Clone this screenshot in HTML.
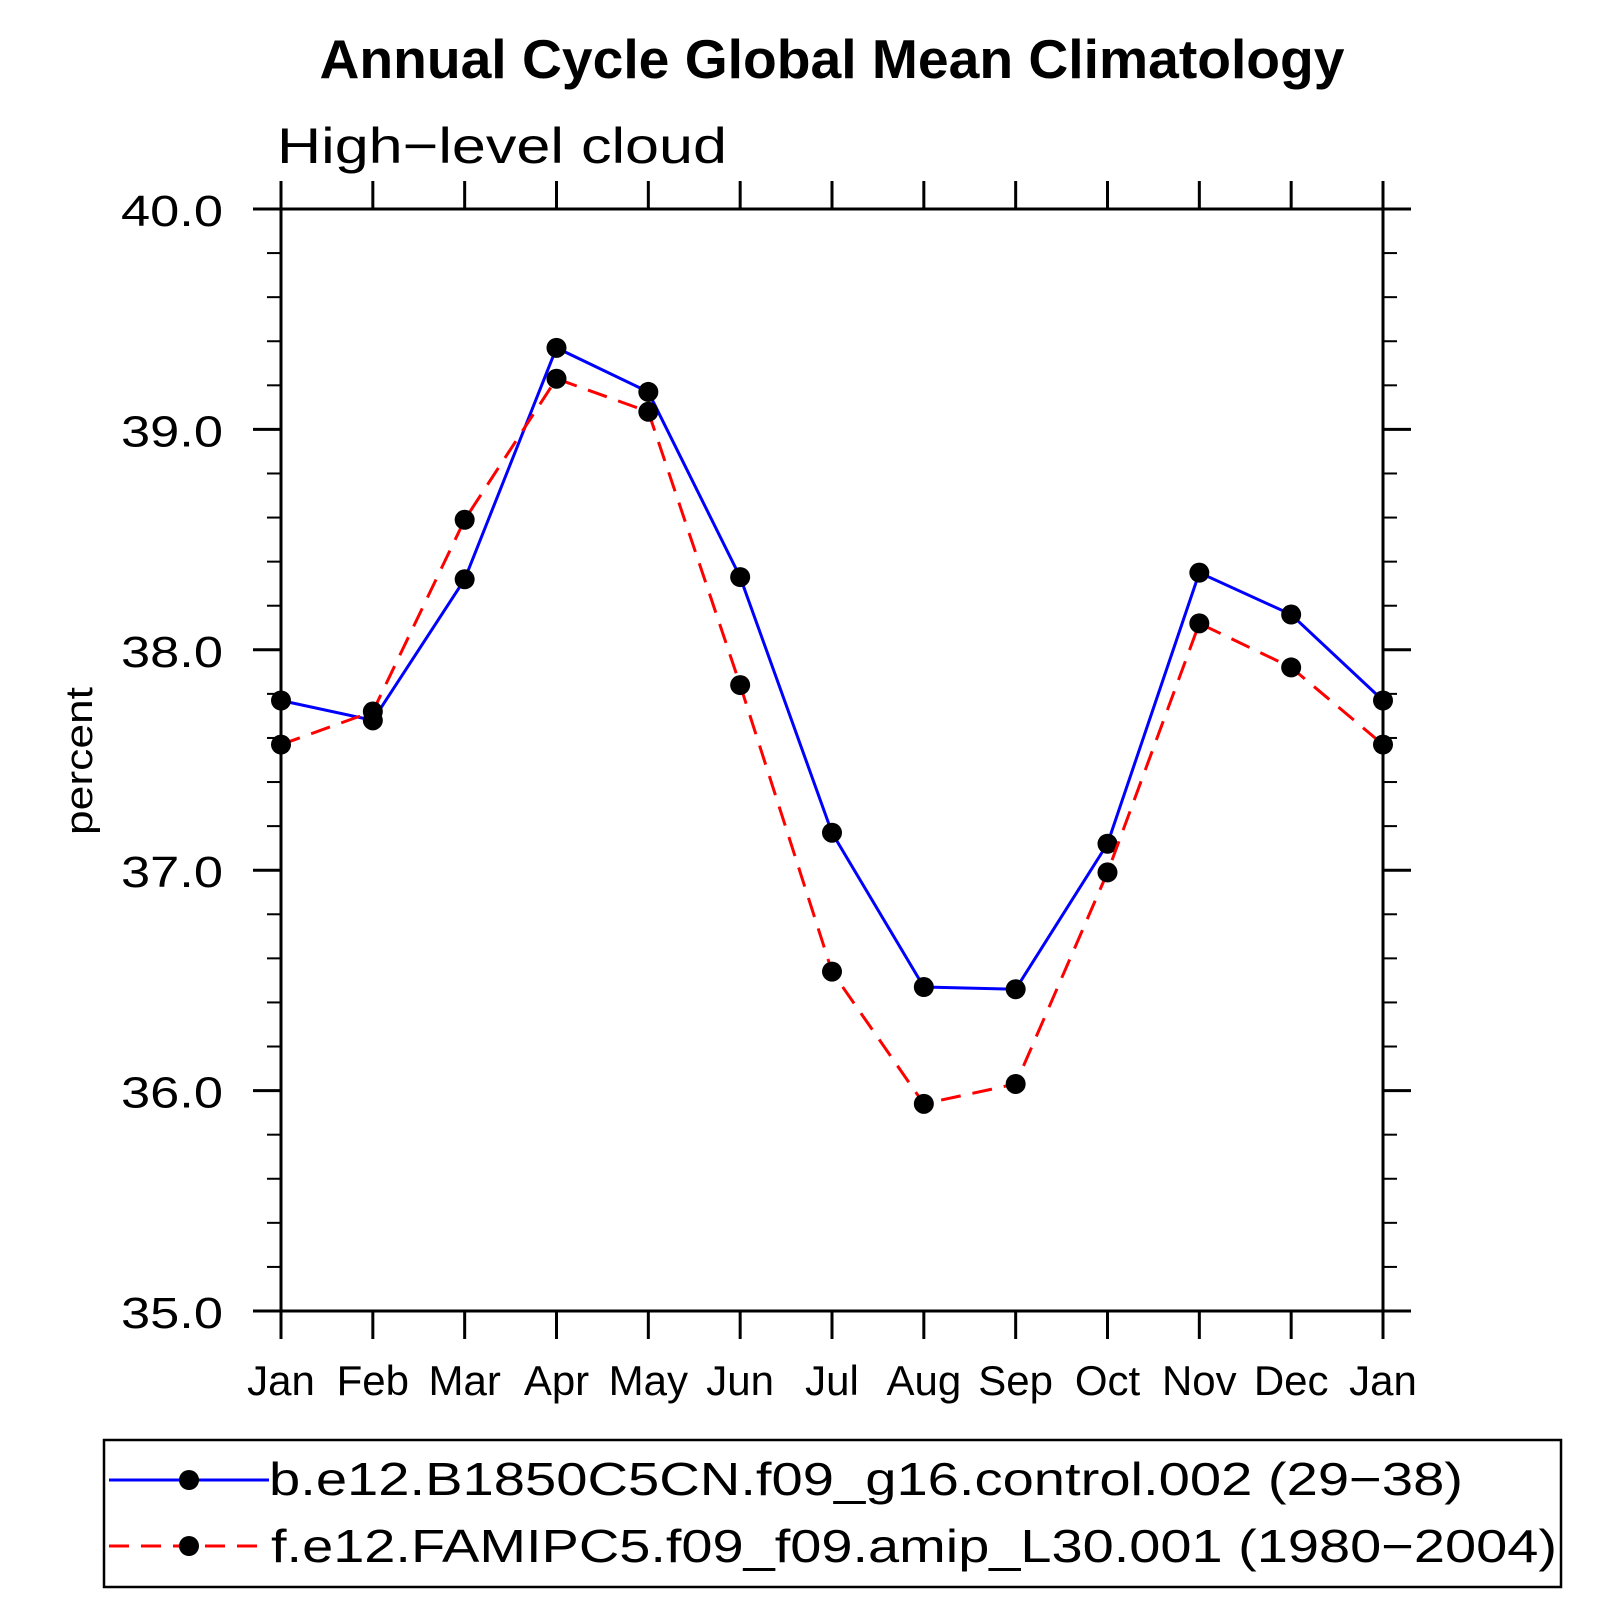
<!DOCTYPE html>
<html><head><meta charset="utf-8"><style>
html,body{margin:0;padding:0;background:#fff;}
svg{display:block;}
text{font-family:"Liberation Sans",sans-serif;}
</style></head><body>
<svg id="chart" width="1624" height="1624" viewBox="0 0 1624 1624">
<text x="832" y="78" font-size="55" font-weight="bold" text-anchor="middle" textLength="1025" lengthAdjust="spacingAndGlyphs">Annual Cycle Global Mean Climatology</text>
<text x="277" y="163" font-size="50" font-weight="300" textLength="450" lengthAdjust="spacingAndGlyphs">High−level cloud</text>
<text transform="translate(92,761) rotate(-90)" font-size="38" text-anchor="middle" textLength="148" lengthAdjust="spacingAndGlyphs">percent</text>
<g id="axes"></g>
<g id="series"></g>
<rect x="104" y="1440" width="1457" height="147" fill="none" stroke="#000" stroke-width="2.5"/>
<g>
<line x1="109" y1="1480" x2="269" y2="1480" stroke="#0000ff" stroke-width="3"/>
<circle cx="189" cy="1480" r="10" fill="#000"/>
<text x="269" y="1495" font-size="46" textLength="1194" lengthAdjust="spacingAndGlyphs">b.e12.B1850C5CN.f09_g16.control.002 (29−38)</text>
</g>
<g>
<line x1="109" y1="1546" x2="269" y2="1546" stroke="#ff0000" stroke-width="3" stroke-dasharray="20 12"/>
<circle cx="189" cy="1546" r="10" fill="#000"/>
<text x="271" y="1562" font-size="46" textLength="1286" lengthAdjust="spacingAndGlyphs">f.e12.FAMIPC5.f09_f09.amip_L30.001 (1980−2004)</text>
</g>
</svg>
<script>
const months = ["Jan","Feb","Mar","Apr","May","Jun","Jul","Aug","Sep","Oct","Nov","Dec","Jan"];
const controlValues = [37.77,37.68,38.32,39.37,39.17,38.33,37.17,36.47,36.46,37.12,38.35,38.16,37.77];
const amipValues = [37.57,37.72,38.59,39.23,39.08,37.84,36.54,35.94,36.03,36.99,38.12,37.92,37.57];
const yTicks = [35,36,37,38,39,40];
const yTickLabels = ["35.0","36.0","37.0","38.0","39.0","40.0"];

const NS="http://www.w3.org/2000/svg";
const L=281,R=1383,T=209,B=1311,YMIN=35,YMAX=40;
const xs=i=>L+(R-L)*i/(months.length-1);
const ys=v=>B-(B-T)*(v-YMIN)/(YMAX-YMIN);
function mk(tag,attrs,parent){const e=document.createElementNS(NS,tag);for(const k in attrs)e.setAttribute(k,attrs[k]);parent.appendChild(e);return e;}
const axes=document.getElementById('axes');
const frame=mk('rect',{x:L,y:T,width:R-L,height:B-T,fill:'none',stroke:'#000','stroke-width':3},axes);


months.forEach((m,i)=>{
  const x=xs(i);
  mk('line',{x1:x,y1:T,x2:x,y2:T-28,stroke:'#000','stroke-width':3},axes);
  mk('line',{x1:x,y1:B,x2:x,y2:B+28,stroke:'#000','stroke-width':3},axes);
  const t=mk('text',{x:x,y:1395,'font-size':42,'text-anchor':'middle'},axes);
  t.textContent=m;
  
  
});
for(let v=YMIN;v<=YMAX+1e-9;v+=0.2){
  const y=ys(v);const major=Math.abs(v-Math.round(v))<1e-6;const len=major?28:14;
  mk('line',{x1:L,y1:y,x2:L-len,y2:y,stroke:'#000','stroke-width':major?3:2},axes);
  mk('line',{x1:R,y1:y,x2:R+len,y2:y,stroke:'#000','stroke-width':major?3:2},axes);
}
yTicks.forEach((v,i)=>{
  const t=mk('text',{x:223,y:ys(v)+17,'font-size':44,'text-anchor':'end',textLength:102,lengthAdjust:'spacingAndGlyphs'},axes);
  t.textContent=yTickLabels[i];
  
  
});
const series=document.getElementById('series');
function draw(vals,color,dash,name){
  const g=mk('g',{},series);
  
  
  const a={points:vals.map((v,i)=>xs(i)+','+ys(v)).join(' '),fill:'none',stroke:color,'stroke-width':3};
  if(dash)a['stroke-dasharray']=dash;
  mk('polyline',a,g);
  vals.forEach((v,i)=>{
    const c=mk('circle',{cx:xs(i),cy:ys(v),r:10,fill:'#000'},g);
    
    
  });
}
draw(controlValues,'#0000ff',null,'series-control');
draw(amipValues,'#ff0000','20 12','series-amip');
</script>
</body></html>
